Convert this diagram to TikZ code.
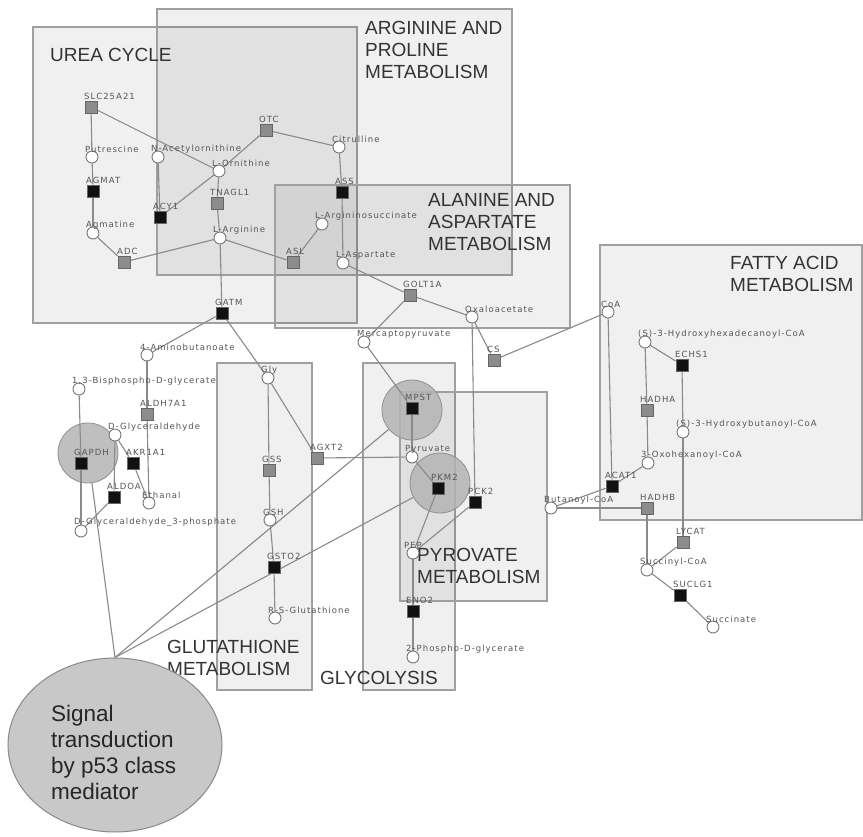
\documentclass[tikz,border=0pt]{standalone}
\usepackage{fontspec}
\setmainfont{Liberation Sans}
\newfontfamily\lblfont[LetterSpace=12]{DejaVu Sans}
\usetikzlibrary{shapes.geometric}
\pgfdeclarelayer{boxlayer}
\pgfdeclarelayer{edgelayer}
\pgfsetlayers{boxlayer,edgelayer,main}
\definecolor{edgec}{HTML}{8A8A8A}
\definecolor{metc}{HTML}{777777}
\definecolor{enzd}{HTML}{666666}
\definecolor{enzg}{HTML}{8C8C8C}
\definecolor{enzb}{HTML}{111111}
\definecolor{lblc}{HTML}{555555}
\definecolor{boxd}{HTML}{A0A0A0}
\definecolor{ttlc}{HTML}{333333}
\definecolor{hlc}{HTML}{B4B4B4}
\definecolor{hld}{HTML}{909090}
\definecolor{p53c}{HTML}{C8C8C8}
\definecolor{p53d}{HTML}{8A8A8A}
\tikzset{
 metab/.style={circle, draw=metc, fill=white, minimum size=12pt, inner sep=0pt, line width=0.9pt},
 enz/.style={rectangle, draw=enzd, minimum size=12pt, inner sep=0pt, line width=0.8pt},
 lbl/.style={anchor=south west, inner sep=0pt, font=\lblfont\fontsize{8.5}{9}\selectfont, text=lblc},
 pbox/.style={draw=boxd, line width=1.3pt, fill=black, fill opacity=0.06},
 ttl/.style={anchor=west, align=left, inner sep=0pt, font=\fontsize{19}{22}\selectfont, text=ttlc},
 hl/.style={circle, minimum size=60pt, inner sep=0pt, fill=hlc, fill opacity=0.85, draw=hld, line width=0.8pt},
 conn/.style={draw=edgec, line width=1.1pt},
}
\newcommand\mymet[4]{\node[metab] (#1) at (#2,#3) {}; \node[lbl] at ([xshift=-7pt,yshift=4pt]#1.center) {#4};}
\newcommand\myenz[5]{\node[enz, fill=#5] (#1) at (#2,#3) {}; \node[lbl] at ([xshift=-7pt,yshift=7pt]#1.center) {#4};}
\begin{document}
\begin{tikzpicture}[x=1pt, y=-1pt]
\useasboundingbox (0,0) rectangle (863,837);
\begin{pgfonlayer}{boxlayer}
\fill[white] (0,0) rectangle (863,837);
\path[pbox] (33,27) rectangle (357,323);
\path[pbox] (157,9) rectangle (512,275);
\path[pbox] (275,185) rectangle (570,328);
\path[pbox] (600,245) rectangle (862,520);
\path[pbox] (217,363) rectangle (312,690);
\path[pbox] (363,363) rectangle (455,690);
\path[pbox] (400,392) rectangle (547,601);
\end{pgfonlayer}
% titles
\node[ttl] (t1) at (50,55) {UREA CYCLE};
\node[ttl] (t2) at (365,50) {ARGININE AND\\PROLINE\\METABOLISM};
\node[ttl] (t3) at (428,222) {ALANINE AND\\ASPARTATE\\METABOLISM};
\node[ttl] (t4) at (730,274) {FATTY ACID\\METABOLISM};
\node[ttl] (t5) at (167,658) {GLUTATHIONE\\METABOLISM};
\node[ttl] (t6) at (320,678) {GLYCOLYSIS};
\node[ttl] (t7) at (417,566) {PYROVATE\\METABOLISM};
% metabolites
\mymet{put}{92}{157}{Putrescine}
\mymet{agm}{93}{233}{Agmatine}
\mymet{nac}{158}{157}{N-Acetylornithine}
\mymet{orn}{219}{171}{L-Ornithine}
\mymet{arg}{220}{238}{L-Arginine}
\mymet{cit}{339}{147}{Citrulline}
\mymet{asuc}{322}{224}{L-Argininosuccinate}
\mymet{asp}{343}{263}{L-Aspartate}
\mymet{oxa}{472}{317}{Oxaloacetate}
\mymet{mpy}{364}{342}{Mercaptopyruvate}
\mymet{coa}{608}{312}{CoA}
\mymet{amb}{147}{355}{4-Aminobutanoate}
\mymet{bpg}{79}{389}{1,3-Bisphospho-D-glycerate}
\mymet{gly}{268}{378}{Gly}
\mymet{dgl}{115}{435}{D-Glyceraldehyde}
\mymet{eth}{149}{503}{Ethanal}
\mymet{gap}{81}{531}{D-Glyceraldehyde\_3-phosphate}
\mymet{gsh}{270}{520}{GSH}
\mymet{rsg}{275}{618}{R-S-Glutathione}
\mymet{pyr}{412}{457}{Pyruvate}
\node[metab] (pep) at (413,553) {};
\node[lbl] at ([xshift=-9pt,yshift=4pt]pep.center) {PEP};
\mymet{pgd}{413}{657}{2-Phospho-D-glycerate}
\mymet{hhd}{645}{342}{(S)-3-Hydroxyhexadecanoyl-CoA}
\mymet{hbu}{683}{432}{(S)-3-Hydroxybutanoyl-CoA}
\mymet{oxh}{648}{463}{3-Oxohexanoyl-CoA}
\mymet{but}{551}{508}{Butanoyl-CoA}
\mymet{suc}{647}{570}{Succinyl-CoA}
\mymet{scn}{713}{627}{Succinate}
% enzymes
\myenz{slc}{91}{107}{SLC25A21}{enzg}
\myenz{agmat}{93}{191}{AGMAT}{enzb}
\myenz{adc}{124}{262}{ADC}{enzg}
\myenz{acy}{160}{217}{ACY1}{enzb}
\myenz{otc}{266}{130}{OTC}{enzg}
\myenz{tnag}{217}{203}{TNAGL1}{enzg}
\myenz{ass}{342}{192}{ASS}{enzb}
\myenz{asl}{293}{262}{ASL}{enzg}
\myenz{got}{410}{295}{GOLT1A}{enzg}
\myenz{cs}{494}{360}{CS}{enzg}
\myenz{gatm}{222}{313}{GATM}{enzb}
\myenz{aldh}{147}{414}{ALDH7A1}{enzg}
\myenz{gapdh}{81}{463}{GAPDH}{enzb}
\myenz{akr}{133}{463}{AKR1A1}{enzb}
\myenz{aldoa}{114}{497}{ALDOA}{enzb}
\myenz{gss}{269}{470}{GSS}{enzg}
\myenz{agxt}{317}{458}{AGXT2}{enzg}
\myenz{gst}{274}{567}{GSTO2}{enzb}
\myenz{mpst}{412}{408}{MPST}{enzb}
\myenz{pkm}{438}{488}{PKM2}{enzb}
\myenz{pck}{475}{502}{PCK2}{enzb}
\myenz{eno}{413}{611}{ENO2}{enzb}
\myenz{echs}{682}{365}{ECHS1}{enzb}
\myenz{hadha}{647}{410}{HADHA}{enzg}
\myenz{acat}{612}{486}{ACAT1}{enzb}
\myenz{hadhb}{647}{508}{HADHB}{enzg}
\myenz{lycat}{683}{542}{LYCAT}{enzg}
\myenz{sucl}{680}{595}{SUCLG1}{enzb}
% p53 ellipse
\node[ellipse, draw=p53d, fill=p53c, line width=1pt, minimum width=214pt, minimum height=174pt] (p53) at (115,745) {};
\node[anchor=west, align=left, inner sep=0pt, font=\fontsize{22.5}{26}\selectfont, text=black!85] (p53t) at (51,752) {Signal\\transduction\\by p53 class\\mediator};
\begin{pgfonlayer}{edgelayer}
\node[hl] (hlgapdh) at (88,453) {};
\node[hl] (hlmpst) at (412,410) {};
\node[hl] (hlpkm) at (440,483) {};
\draw[conn] (slc) -- (put);
\draw[conn] (slc) -- (orn);
\draw[conn] (put) -- (agmat);
\draw[conn] (agmat) -- (agm);
\draw[conn] (agm) -- (adc);
\draw[conn] (adc) -- (arg);
\draw[conn] (nac) -- (acy);
\draw[conn] (acy) -- (orn);
\draw[conn] (otc) -- (orn);
\draw[conn] (otc) -- (cit);
\draw[conn] (orn) -- (tnag);
\draw[conn] (tnag) -- (arg);
\draw[conn] (cit) -- (ass);
\draw[conn] (ass) -- (asp);
\draw[conn] (arg) -- (asl);
\draw[conn] (asl) -- (asuc);
\draw[conn] (arg) -- (gatm);
\draw[conn] (asp) -- (got);
\draw[conn] (got) -- (oxa);
\draw[conn] (got) -- (mpy);
\draw[conn] (oxa) -- (cs);
\draw[conn] (cs) -- (coa);
\draw[conn] (oxa) -- (pck);
\draw[conn] (coa) -- (acat);
\draw[conn] (gatm) -- (amb);
\draw[conn] (gatm) -- (gly);
\draw[conn] (amb) -- (aldh);
\draw[conn] (aldh) -- (eth);
\draw[conn] (bpg) -- (gapdh);
\draw[conn] (gapdh) -- (gap);
\draw[conn] (dgl) -- (akr);
\draw[conn] (akr) -- (eth);
\draw[conn] (dgl) -- (aldoa);
\draw[conn] (aldoa) -- (gap);
\draw[conn] (gly) -- (gss);
\draw[conn] (gss) -- (gsh);
\draw[conn] (gly) -- (agxt);
\draw[conn] (agxt) -- (pyr);
\draw[conn] (gsh) -- (gst);
\draw[conn] (gst) -- (rsg);
\draw[conn] (mpy) -- (mpst);
\draw[conn] (mpst) -- (pyr);
\draw[conn] (pyr) -- (pkm);
\draw[conn] (pkm) -- (pep);
\draw[conn] (pck) -- (pep);
\draw[conn] (pep) -- (eno);
\draw[conn] (eno) -- (pgd);
\draw[conn] (hhd) -- (echs);
\draw[conn] (echs) -- (hbu);
\draw[conn] (hbu) -- (lycat);
\draw[conn] (hhd) -- (hadha);
\draw[conn] (hadha) -- (oxh);
\draw[conn] (oxh) -- (acat);
\draw[conn] (acat) -- (but);
\draw[conn] (but) -- (hadhb);
\draw[conn] (hadhb) -- (suc);
\draw[conn] (lycat) -- (suc);
\draw[conn] (suc) -- (sucl);
\draw[conn] (sucl) -- (scn);
\draw[conn] (p53.north) -- (hlgapdh);
\draw[conn] (p53.north) -- (hlmpst);
\draw[conn] (p53.north) -- (hlpkm);
\end{pgfonlayer}
\end{tikzpicture}
\end{document}
